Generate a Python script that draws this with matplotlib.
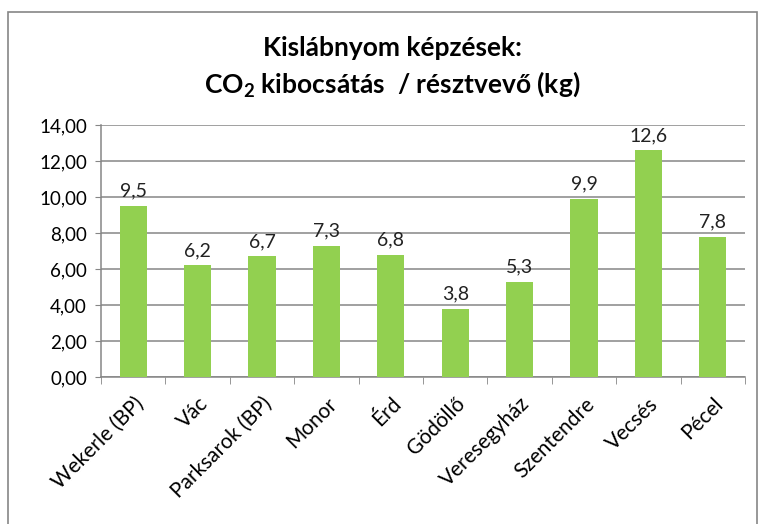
"""Kislábnyom képzések — CO2 kibocsátás / résztvevő oszlopdiagram."""
import matplotlib
matplotlib.use("Agg")
import matplotlib.pyplot as plt
from matplotlib.patches import Rectangle

helyszinek = ["Wekerle (BP)", "Vác", "Parksarok (BP)", "Monor", "Érd",
              "Gödöllő", "Veresegyház", "Szentendre", "Vecsés", "Pécel"]
ertekek = [9.5, 6.2, 6.7, 7.3, 6.8, 3.8, 5.3, 9.9, 12.6, 7.8]
y_ticks = [0, 2, 4, 6, 8, 10, 12, 14]

plt.rcParams["font.family"] = ["Lato", "DejaVu Sans"]
plt.rcParams["mathtext.fontset"] = "custom"
plt.rcParams["mathtext.bf"] = "Lato:bold"
plt.rcParams["mathtext.rm"] = "Lato"

fig = plt.figure(figsize=(7.71, 5.24), dpi=100)
ax = fig.add_axes([101 / 771, 1 - 377 / 524, (745 - 101) / 771, (377 - 125) / 524])

# külső keret
fig.add_artist(Rectangle((8 / 771, -0.05), (757 - 8) / 771, 1.05 - 12 / 524,
                         transform=fig.transFigure, fill=False,
                         edgecolor="#868686", linewidth=1.2))

x = list(range(len(helyszinek)))
ax.bar(x, ertekek, width=0.42, color="#92D050", zorder=3)
for xi, v in zip(x, ertekek):
    ax.text(xi, v + 0.35, f"{v:.1f}".replace(".", ","), ha="center", va="bottom",
            fontsize=14, color="#222222")

ax.set_xlim(-0.5, len(helyszinek) - 0.5)
ax.set_ylim(0, 14)
ax.set_yticks(y_ticks)
ax.set_yticklabels([f"{t:.2f}".replace(".", ",") for t in y_ticks], fontsize=13.5)
ax.yaxis.grid(True, color="#868686", linewidth=1.1, zorder=0)
ax.tick_params(axis="y", length=4, color="#868686", pad=6)

ax.set_xticks(x)
ax.set_xticklabels(helyszinek, rotation=45, ha="right", rotation_mode="anchor",
                   fontsize=15)
ax.tick_params(axis="x", length=0, pad=12)
ax.set_xticks([i - 0.5 for i in range(len(helyszinek) + 1)], minor=True)
ax.tick_params(axis="x", which="minor", length=5, color="#868686")

for s in ["top", "right"]:
    ax.spines[s].set_visible(False)
for s in ["left", "bottom"]:
    ax.spines[s].set_color("#868686")
    ax.spines[s].set_linewidth(1.1)

fig.text(392 / 771, 1 - 48 / 524, "Kislábnyom képzések:", ha="center", va="center",
         fontsize=19, fontweight="bold")
fig.text(392 / 771, 1 - 84 / 524, r"CO$_\mathbf{2}$ kibocsátás  / résztvevő (kg)",
         ha="center", va="center", fontsize=19, fontweight="bold")

fig.savefig("out.png", dpi=100)
plt.close(fig)
